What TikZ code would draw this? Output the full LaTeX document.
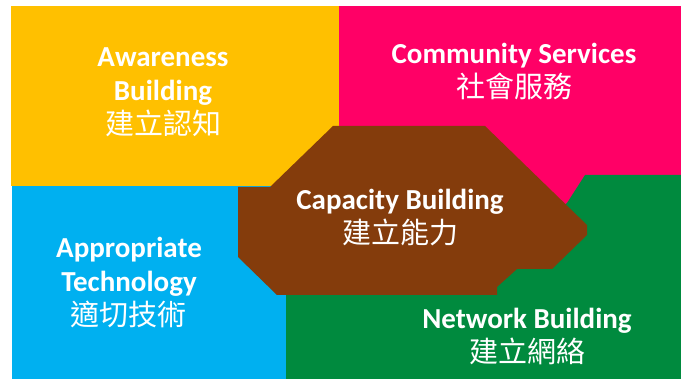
\documentclass[tikz,border=0pt]{standalone}
\usepackage{fontspec}
\setmainfont{Carlito}
\newfontfamily\cjk{Noto Sans CJK TC}
\usetikzlibrary{positioning}
\definecolor{awareYellow}{HTML}{FFC000}
\definecolor{commPink}{HTML}{FF0066}
\definecolor{techBlue}{HTML}{00B0F0}
\definecolor{netGreen}{HTML}{008A3E}
\definecolor{capBrown}{HTML}{843C0C}

\begin{document}
\begin{tikzpicture}[x=1pt,y=-1pt,
  blocktext/.style={text=white, align=center, inner sep=0pt,
    font=\bfseries\fontsize{29}{34}\selectfont}]
\useasboundingbox (0,0) rectangle (681,379);
% Awareness block
\fill[awareYellow] (11,6) rectangle (339,186);
% Community services block
\fill[commPink] (339,6) rectangle (681,240);
% Appropriate technology block
\fill[techBlue] (12,186) rectangle (286,379);
% Network block (partly under the hexagon)
\fill[netGreen] (286,379) -- (286,280) -- (520,240) -- (567,203) -- (585,175)
                -- (681,175) -- (681,379) -- cycle;
% Capacity building hexagon
\fill[capBrown] (333,126) -- (485,126) -- (587,225) -- (587,235) -- (552,269)
                -- (517,269) -- (497,287) -- (497,295) -- (277,295) -- (238,257)
                -- (238,187) -- (270,187) -- cycle;

\node[blocktext] (aware) at (163,92) {Awareness\\Building\\{\cjk\mdseries 建立認知}};
\node[blocktext] (comm) at (514,72) {Community Services\\{\cjk\mdseries 社會服務}};
\node[blocktext] (cap) at (400,218) {Capacity Building\\{\cjk\mdseries 建立能力}};
\node[blocktext] (tech) at (129,283) {Appropriate\\Technology\\{\cjk\mdseries 適切技術}};
\node[blocktext] (net) at (527,337) {Network Building\\{\cjk\mdseries 建立網絡}};
\end{tikzpicture}
\end{document}
